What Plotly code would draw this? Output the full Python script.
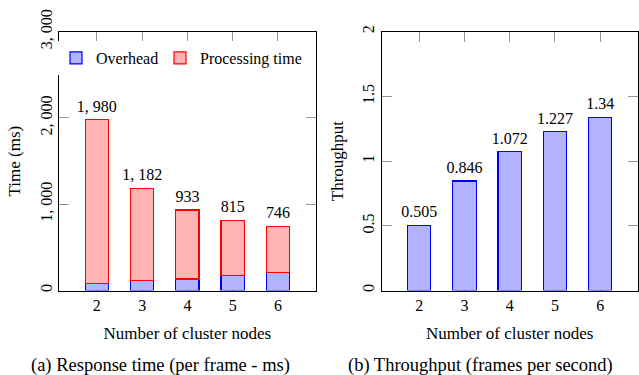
import plotly.graph_objects as go

# ---- data ----
nodes = [2, 3, 4, 5, 6]
overhead_ms = [78, 116, 134, 174, 211]
total_ms = [1980, 1182, 933, 815, 746]
processing_ms = [t - o for t, o in zip(total_ms, overhead_ms)]
throughput = [0.505, 0.846, 1.072, 1.227, 1.34]
time_ticks = [0, 1000, 2000, 3000]
time_tick_text = ["0", "1, 000", "2, 000", "3, 000"]
tp_ticks = [0, 0.5, 1, 1.5, 2]
tp_tick_text = ["0", "0.5", "1", "1.5", "2"]

FONT = "Liberation Serif"
BLUE_FILL = "rgb(179,179,255)"
RED_FILL = "rgb(255,179,179)"
BLUE = "rgb(0,0,255)"
RED = "rgb(255,0,0)"
TICK_GRAY = "rgb(150,150,150)"
W, H = 639, 375

total_text = [f"{v:,}".replace(",", ", ") for v in total_ms]
tp_text = [str(v) for v in throughput]

fig = go.Figure()
fig.add_trace(go.Bar(x=nodes, y=overhead_ms, name="Overhead", width=0.515,
                     marker=dict(color=BLUE_FILL, line=dict(color=BLUE, width=1.2)),
                     xaxis="x", yaxis="y", legend="legend"))
fig.add_trace(go.Bar(x=nodes, y=processing_ms, name="Processing time", width=0.515,
                     marker=dict(color=RED_FILL, line=dict(color=RED, width=1.2)),
                     xaxis="x", yaxis="y", legend="legend2"))
fig.add_trace(go.Scatter(x=nodes, y=total_ms, mode="markers+text", text=total_text,
                         textposition="top center", showlegend=False,
                         marker=dict(size=5, color="rgba(0,0,0,0)"),
                         textfont=dict(family=FONT, size=16, color="black"),
                         xaxis="x", yaxis="y", hoverinfo="skip"))
fig.add_trace(go.Bar(x=nodes, y=throughput, name="Throughput", width=0.515,
                     marker=dict(color=BLUE_FILL, line=dict(color=BLUE, width=1.2)),
                     showlegend=False, xaxis="x2", yaxis="y2"))
fig.add_trace(go.Scatter(x=nodes, y=throughput, mode="markers+text", text=tp_text,
                         textposition="top center", showlegend=False,
                         marker=dict(size=5, color="rgba(0,0,0,0)"),
                         textfont=dict(family=FONT, size=16, color="black"),
                         xaxis="x2", yaxis="y2", hoverinfo="skip"))

ydom = [(H - 290.5) / H, (H - 31.7) / H]
common_x = dict(range=[1.17, 6.83], tickvals=nodes, ticks="inside", ticklen=10,
                tickcolor=TICK_GRAY, showline=True, linecolor="black", linewidth=1,
                mirror="ticks", showgrid=False, zeroline=False, layer="below traces",
                tickfont=dict(family=FONT, size=16, color="black"),
                title=dict(text="Number of cluster nodes", standoff=14,
                           font=dict(family=FONT, size=17, color="black")))
common_y = dict(ticks="inside", ticklen=10, tickcolor=TICK_GRAY, showline=True,
                linecolor="black", linewidth=1, mirror="ticks", showgrid=False,
                zeroline=False, tickangle=-90, layer="below traces",
                tickfont=dict(family=FONT, size=16, color="black"))
legend_common = dict(orientation="h", xanchor="left", yanchor="top",
                     y=(H - 41) / H, bgcolor="white", borderwidth=0, itemwidth=30,
                     font=dict(family=FONT, size=16, color="black"))

fig.update_layout(
    width=W, height=H,
    margin=dict(l=0, r=0, t=0, b=0, autoexpand=False),
    paper_bgcolor="white", plot_bgcolor="white",
    barmode="stack",
    font=dict(family=FONT, size=16, color="black"),
    xaxis=dict(domain=[59.3 / W, 315.5 / W], anchor="y", **common_x),
    yaxis=dict(domain=ydom, anchor="x", range=[0, 3000], tickvals=time_ticks,
               ticktext=time_tick_text,
               title=dict(text="Time (ms)", standoff=12,
                          font=dict(family=FONT, size=17, color="black")),
               **common_y),
    xaxis2=dict(domain=[381.7 / W, 637.7 / W], anchor="y2", **common_x),
    yaxis2=dict(domain=ydom, anchor="x2", range=[0, 2], tickvals=tp_ticks,
                ticktext=tp_tick_text,
                title=dict(text="Throughput", standoff=12,
                           font=dict(family=FONT, size=17, color="black")),
                **common_y),
    legend=dict(x=56 / W, **legend_common),
    legend2=dict(x=160 / W, **legend_common),
    annotations=[
        dict(text="(a) Response time (per frame - ms)", x=160 / W, y=0, yshift=-3,
             xref="paper", yref="paper", showarrow=False, xanchor="center",
             yanchor="bottom", font=dict(family=FONT, size=18.5, color="black")),
        dict(text="(b) Throughput (frames per second)", x=480 / W, y=0, yshift=-3,
             xref="paper", yref="paper", showarrow=False, xanchor="center",
             yanchor="bottom", font=dict(family=FONT, size=18.5, color="black")),
    ],
)

fig.write_html("out.html", config={"displayModeBar": False},
               post_script="document.body.style.margin='0';")
